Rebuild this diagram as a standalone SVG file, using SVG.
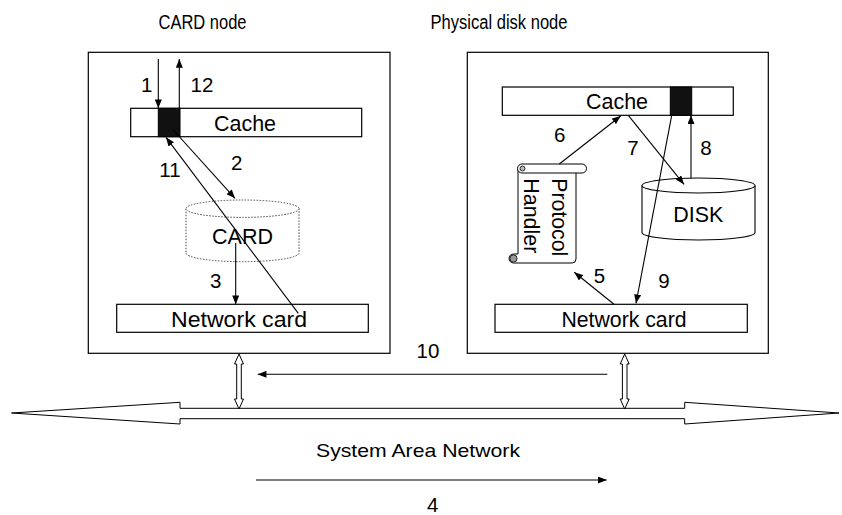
<svg xmlns="http://www.w3.org/2000/svg" width="842" height="515" viewBox="0 0 842 515">
  <style>
    text { font-family: "Liberation Sans", Arial, sans-serif; fill: #000; }
    .title { font-size: 20px; text-anchor: middle; }
    .lbl { font-size: 20.5px; text-anchor: middle; }
    .big { font-size: 21.5px; text-anchor: middle; }
    .box { fill: #fff; stroke: #000; stroke-width: 1.2; }
    .blk { fill: #111; stroke: #000; stroke-width: 1; }
    .edge { fill: none; stroke: #000; stroke-width: 1.1; marker-end: url(#head); }
    .hollow { fill: #fff; stroke: #000; stroke-width: 1; }
  </style>
  <defs>
    <marker id="head" viewBox="0 0 10 8" markerWidth="9" markerHeight="7" refX="10" refY="4" orient="auto" markerUnits="userSpaceOnUse">
      <path d="M0 0 L10 4 L0 8 Z" fill="#000"/>
    </marker>
  </defs>
  <rect width="842" height="515" fill="#fff"/>

  <!-- titles -->
  <text class="title" x="202.5" y="29.3" textLength="88" lengthAdjust="spacingAndGlyphs">CARD node</text>
  <text class="title" x="499" y="29.3" textLength="137" lengthAdjust="spacingAndGlyphs">Physical disk node</text>

  <!-- CARD node -->
  <g id="card-node">
    <rect class="box" x="88.3" y="52.3" width="301.7" height="301"/>
  </g>
  <g id="card-cache">
    <rect class="box" x="130.7" y="108.3" width="231" height="28.4"/>
    <rect class="blk" x="158.3" y="108.3" width="21.7" height="28.4"/>
    <text class="big" x="245" y="130.7" textLength="62" lengthAdjust="spacingAndGlyphs">Cache</text>
  </g>
  <g id="card-store">
    <path d="M186 208.7 V253 A56.5 8.7 0 0 0 299 253 V208.7" fill="#fff" stroke="#444" stroke-width="1" stroke-dasharray="1.5 1.5"/>
    <ellipse cx="242.5" cy="208.7" rx="56.5" ry="8.7" fill="#fff" stroke="#444" stroke-width="1" stroke-dasharray="1.5 1.5"/>
    <text class="big" x="242.5" y="244" textLength="61" lengthAdjust="spacingAndGlyphs">CARD</text>
  </g>
  <g id="card-nic">
    <rect class="box" x="116.7" y="304.3" width="251.6" height="28"/>
    <text class="big" style="font-size:22px" x="239" y="326.7" textLength="136" lengthAdjust="spacingAndGlyphs">Network card</text>
  </g>

  <!-- Physical disk node -->
  <g id="disk-node">
    <rect class="box" x="467.3" y="52.3" width="301" height="301"/>
  </g>
  <g id="disk-cache">
    <rect class="box" x="502.3" y="87" width="231" height="28.3"/>
    <rect class="blk" x="670.3" y="87" width="21.4" height="28.3"/>
    <text class="big" x="617" y="109.3" textLength="62" lengthAdjust="spacingAndGlyphs">Cache</text>
  </g>
  <g id="protocol-handler">
    <path d="M576 173 V259 A4 4 0 0 1 572 263 H513.5 A4.5 4.5 0 0 1 513.5 254 H518 V168.5" fill="#fff" stroke="#000" stroke-width="1"/>
    <path d="M522 164 H582 A4.5 4.5 0 0 1 582 173 H522 A4.5 4.5 0 0 1 522 164 Z" fill="#fff" stroke="#000" stroke-width="1"/>
    <circle cx="522.5" cy="168.5" r="2.5" fill="#bbb" stroke="#000" stroke-width="0.8"/>
    <circle cx="513.5" cy="258.5" r="3.6" fill="#999" stroke="#000" stroke-width="0.8"/>
    <text class="big" style="text-anchor:start" transform="translate(552 178.3) rotate(90)" textLength="78" lengthAdjust="spacingAndGlyphs">Protocol</text>
    <text class="big" style="text-anchor:start" transform="translate(523.5 178.3) rotate(90)" textLength="75" lengthAdjust="spacingAndGlyphs">Handler</text>
  </g>
  <g id="disk">
    <path d="M642 185.5 V232.5 A56.5 7.5 0 0 0 755 232.5 V185.5" fill="#fff" stroke="#000" stroke-width="1.1"/>
    <ellipse cx="698.5" cy="185.5" rx="56.5" ry="7.5" fill="#fff" stroke="#000" stroke-width="1.1"/>
    <text class="big" x="698.3" y="221.7" textLength="50" lengthAdjust="spacingAndGlyphs">DISK</text>
  </g>
  <g id="disk-nic">
    <rect class="box" x="495" y="304.3" width="252.3" height="28"/>
    <text class="big" x="624" y="327.3" textLength="125" lengthAdjust="spacingAndGlyphs">Network card</text>
  </g>

  <!-- System Area Network -->
  <g id="san">
    <polygon class="hollow" points="11.5,413 180,402.3 180,408.3 684.7,408.3 684.7,402.3 839,413 684.7,424 684.7,418.7 180,418.7 180,424"/>
    <text x="418" y="456.7" style="font-size:18.5px;text-anchor:middle" textLength="204" lengthAdjust="spacingAndGlyphs">System Area Network</text>
  </g>

  <!-- connectors -->
  <g id="connectors">
    <!-- node to network links -->
    <polygon class="hollow" points="239,354 243.5,364 241.3,364 241.3,399 243.5,399 239,409 234.5,399 236.7,399 236.7,364 234.5,364"/>
    <polygon class="hollow" points="624.7,354 629.2,364 627,364 627,399 629.2,399 624.7,409 620.2,399 622.4,399 622.4,364 620.2,364"/>

    <line class="edge" x1="158.3" y1="59" x2="158.3" y2="108.3"/>
    <line class="edge" x1="179.3" y1="108.3" x2="179.3" y2="59"/>
    <line class="edge" x1="173.3" y1="130" x2="235" y2="198.3"/>
    <line class="edge" x1="235.7" y1="243" x2="235.7" y2="304.3"/>
    <line class="edge" x1="256" y1="480" x2="606.7" y2="480"/>
    <line class="edge" x1="614" y1="304.3" x2="574.3" y2="272.3"/>
    <line class="edge" x1="559.3" y1="164" x2="620.7" y2="116"/>
    <line class="edge" x1="628.3" y1="115.3" x2="684" y2="184.3"/>
    <line class="edge" x1="691" y1="178.3" x2="691" y2="115.3"/>
    <line class="edge" x1="671.7" y1="115.3" x2="636" y2="303.3"/>
    <line class="edge" x1="607.3" y1="374.3" x2="257.7" y2="374.3"/>
    <line class="edge" x1="298.3" y1="313.3" x2="166" y2="137.3"/>

    <text class="lbl" x="146.7" y="92">1</text>
    <text class="lbl" x="202" y="92">12</text>
    <text class="lbl" x="236.7" y="170">2</text>
    <text class="lbl" x="170" y="177.3">11</text>
    <text class="lbl" x="215.7" y="288.3">3</text>
    <text class="lbl" x="432.7" y="512">4</text>
    <text class="lbl" x="599.5" y="282.7">5</text>
    <text class="lbl" x="559.7" y="141.7">6</text>
    <text class="lbl" x="633" y="155">7</text>
    <text class="lbl" x="706" y="155">8</text>
    <text class="lbl" x="664" y="288.3">9</text>
    <text class="lbl" x="428" y="358.3">10</text>
  </g>
</svg>
